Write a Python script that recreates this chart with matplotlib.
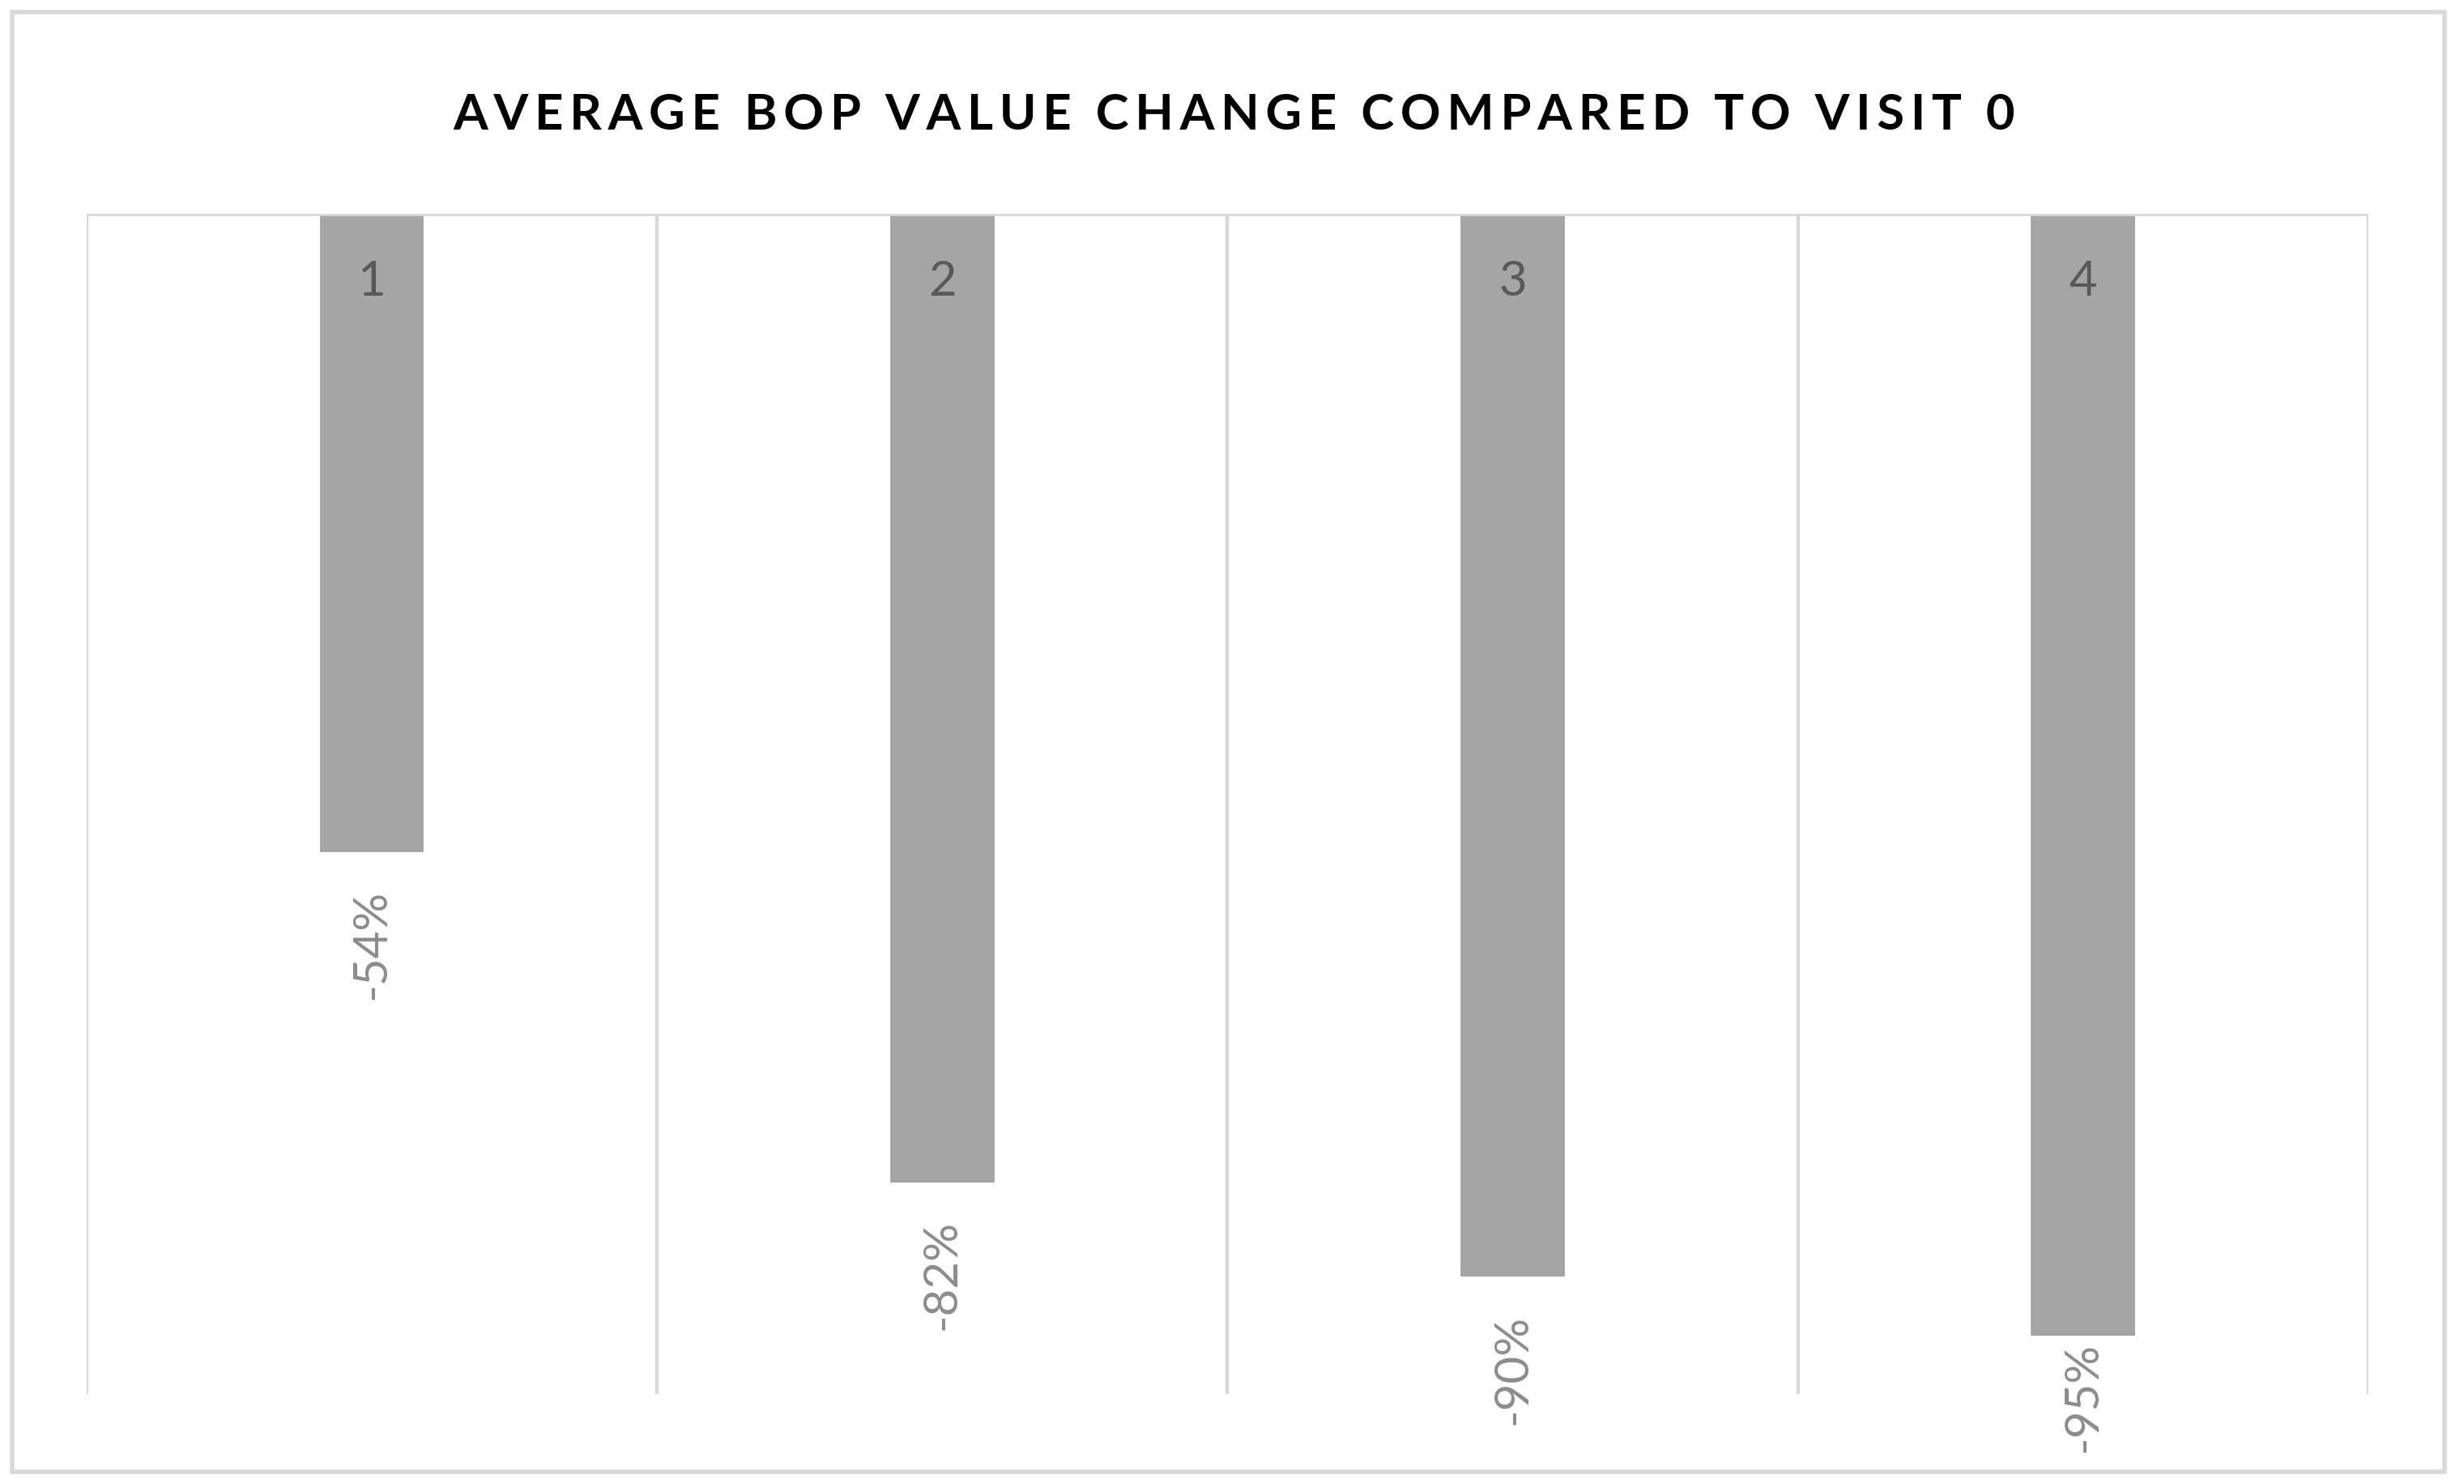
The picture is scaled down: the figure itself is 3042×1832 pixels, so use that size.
import matplotlib.pyplot as plt
from matplotlib.patches import Rectangle

plt.rcParams['font.family'] = ['Lato', 'DejaVu Sans']

visits = ["1", "2", "3", "4"]
change = [-0.54, -0.82, -0.90, -0.95]
labels = ["-54%", "-82%", "-90%", "-95%"]
title = "AVERAGE BOP VALUE CHANGE COMPARED TO VISIT 0"

fig = plt.figure(figsize=(15.21, 9.16), dpi=200)
ax = fig.add_axes([0.0351, 0.0607, 0.9261, 0.7953])

x = list(range(1, len(visits) + 1))
ax.bar(x, change, width=0.18, color="#a5a5a5", edgecolor="#9e9e9e", linewidth=0.6, zorder=2)

ax.set_xlim(0.5, len(visits) + 0.5)
ax.set_ylim(-1, 0)

# category boundaries as light vertical lines, axis line on top (value 0)
for b in [i + 0.5 for i in range(len(visits) + 1)]:
    ax.axvline(b, color="#d9d9d9", linewidth=1.6, zorder=1)
ax.axhline(0, color="#d9d9d9", linewidth=2.0, zorder=3)

for xi, v, cat, lab in zip(x, change, visits, labels):
    ax.text(xi, -0.058, cat, ha="center", va="center", fontsize=21.5,
            color="#595959", zorder=4)
    # last label gets pushed up so it stays inside the chart area, like excel does
    off = -17 if v > -0.93 else -3
    ax.annotate(lab, (xi, v), xytext=(0, off), textcoords="offset points",
                ha="center", va="top", rotation=90, fontsize=21,
                color="#8c8c8c", annotation_clip=False)

for s in ax.spines.values():
    s.set_visible(False)
ax.set_xticks([])
ax.set_yticks([])

spaced = "\u2009".join(title).replace("\u2009 \u2009", "  ")
fig.text(0.5007, 0.9226, spaced, ha="center", va="center", fontsize=22.2,
         fontweight="bold", color="#000000")

fig.patches.append(Rectangle((0.005, 0.008), 0.987, 0.984, transform=fig.transFigure,
                             fill=False, edgecolor="#d9d9d9", linewidth=2.0))

fig.savefig("out.png", dpi=200, facecolor="white")
